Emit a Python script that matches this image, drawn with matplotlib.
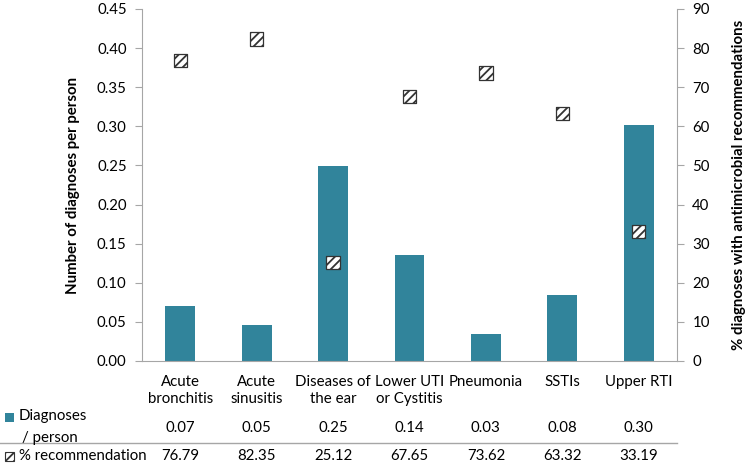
import matplotlib
matplotlib.use("Agg")
import matplotlib.pyplot as plt
import matplotlib.transforms as mtransforms
from matplotlib.patches import Rectangle
from matplotlib.lines import Line2D

plt.rcParams['font.family'] = ['Lato', 'DejaVu Sans']
plt.rcParams['hatch.linewidth'] = 1.3

categories = ["Acute\nbronchitis", "Acute\nsinusitis", "Diseases of\nthe ear",
              "Lower UTI\nor Cystitis", "Pneumonia", "SSTIs", "Upper RTI"]
diagnoses_per_person = [0.0705, 0.046, 0.249, 0.136, 0.034, 0.0842, 0.302]
pct_recommendation = [76.79, 82.35, 25.12, 67.65, 73.62, 63.32, 33.19]
left_ticks = [0.00, 0.05, 0.10, 0.15, 0.20, 0.25, 0.30, 0.35, 0.40, 0.45]
right_ticks = [0, 10, 20, 30, 40, 50, 60, 70, 80, 90]

bar_color = "#31849B"
spine_color = "#A6A6A6"
fs = 10.8

fig = plt.figure(figsize=(7.47, 4.66), dpi=100)
ax = fig.add_axes([142/747, 1 - 361/466, (677-142)/747, (361-9)/466])
x = list(range(len(categories)))
ax.bar(x, diagnoses_per_person, width=0.39, color=bar_color, zorder=2)
ax.set_xlim(-0.5, len(categories) - 0.5)
ax.set_ylim(0, 0.45)
ax.set_yticks(left_ticks)
ax.set_yticklabels([f"{v:.2f}" for v in left_ticks], fontsize=fs)
ax.set_xticks(x)
ax.set_xticklabels(categories, fontsize=fs, va='top', linespacing=1.3)
ax.tick_params(axis='x', length=0, pad=10)
ax.tick_params(axis='y', length=5, color=spine_color, pad=6)
for s in ['top', 'right']:
    ax.spines[s].set_visible(False)
for s in ['left', 'bottom']:
    ax.spines[s].set_color(spine_color)
ax.set_ylabel("Number of diagnoses per person", fontsize=fs, fontweight='bold', labelpad=12)

ax2 = ax.twinx()
ax2.set_ylim(0, 90)
ax2.set_yticks(right_ticks)
ax2.set_yticklabels([str(v) for v in right_ticks], fontsize=fs)
ax2.tick_params(axis='y', length=5, color=spine_color, pad=6)
for s in ['top', 'left', 'bottom']:
    ax2.spines[s].set_visible(False)
ax2.spines['right'].set_color(spine_color)
ax2.scatter(x, pct_recommendation, marker='s', s=90, facecolor='white',
            edgecolor='#333333', hatch='////', linewidths=0.9, zorder=3)
ax2.set_ylabel("% diagnoses with antimicrobial recommendations", fontsize=fs,
               fontweight='bold', labelpad=16)

# data table
trans = mtransforms.blended_transform_factory(ax.transData, fig.transFigure)
y_row1 = 1 - 428/466
y_row2 = 1 - 456/466
y_line = 1 - 443/466
for xi, v in zip(x, diagnoses_per_person):
    fig.text(xi, y_row1, f"{v:.2f}", transform=trans, ha='center', va='center', fontsize=fs)
for xi, v in zip(x, pct_recommendation):
    fig.text(xi, y_row2, f"{v:.2f}", transform=trans, ha='center', va='center', fontsize=fs)

fig.text(19/747, 1 - 416/466, "Diagnoses", ha='left', va='center', fontsize=fs)
fig.text(22/747, 1 - 438/466, "/ person", ha='left', va='center', fontsize=fs)
fig.text(19/747, y_row2, "% recommendation", ha='left', va='center', fontsize=fs)
fig.patches.append(Rectangle((5/747, 1 - 422/466), 9/747, 9/466, transform=fig.transFigure,
                             facecolor=bar_color, edgecolor='none'))
fig.patches.append(Rectangle((5/747, 1 - 461/466), 9/747, 9/466, transform=fig.transFigure,
                             facecolor='white', edgecolor='#333333', hatch='////', linewidth=0.8))
fig.lines.append(Line2D([0, 677/747], [y_line, y_line], transform=fig.transFigure,
                        color=spine_color, linewidth=1))

fig.savefig("out.png", dpi=100)
